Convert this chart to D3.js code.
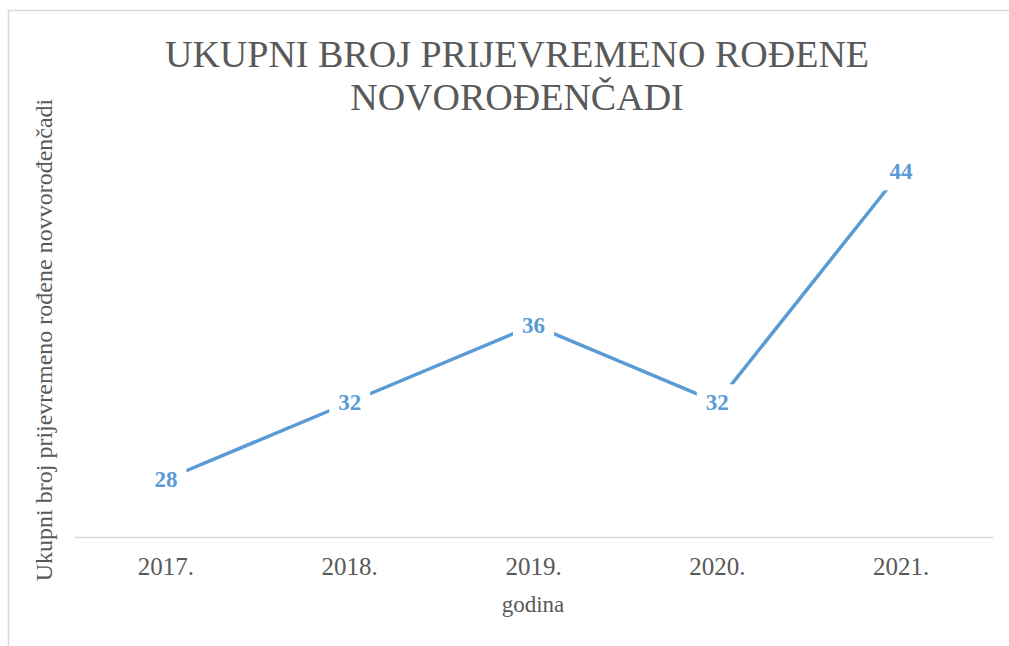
<!DOCTYPE html>
<html>
<head>
  <meta charset="utf-8" />
  <title>Ukupni broj prijevremeno rođene novorođenčadi</title>
  <style>
    body { margin: 0; background: #fff; }
    svg text { font-family: "Liberation Serif", serif; fill: #595959; }
    svg text.lbl { font-weight: bold; fill: #5B9BD5; font-size: 23px; }
  </style>
</head>
<body>
  <div id="chart"></div>
  <script src="https://d3js.org/d3.v7.min.js"></script>
  <script>
// podaci
const godine = ["2017.", "2018.", "2019.", "2020.", "2021."];
const vrijednosti = [28, 32, 36, 32, 44];
const naslov = ["UKUPNI BROJ PRIJEVREMENO ROĐENE", "NOVOROĐENČADI"];

const W = 1009, H = 646;
const svg = d3.select("#chart").append("svg")
  .attr("width", W)
  .attr("height", H)
  .attr("font-family", "Liberation Serif, serif");

// okvir grafikona
svg.append("rect")
  .attr("x", 8.5).attr("y", 10.5)
  .attr("width", 1100).attr("height", 1000)
  .attr("fill", "none")
  .attr("stroke", "#D9D9D9")
  .attr("stroke-width", 1.5);

const x = d3.scaleBand().domain(godine).range([74, 993]);
const y = d3.scaleLinear().domain([25, 45]).range([537, 152]);

// naslov
svg.append("text")
  .attr("x", 517).attr("y", 67)
  .attr("text-anchor", "middle")
  .attr("font-family", "Liberation Serif, serif")
  .style("font-size", "38px")
  .selectAll("tspan").data(naslov).join("tspan")
  .attr("x", 517)
  .attr("dy", (d, i) => i ? 43 : 0)
  .text(d => d);

// x os
const xAxis = svg.append("g")
  .attr("transform", "translate(0,537)")
  .call(d3.axisBottom(x).tickSize(0).tickPadding(15));
xAxis.attr("font-family", "Liberation Serif, serif");
xAxis.select(".domain").attr("stroke", "#D9D9D9").attr("stroke-width", 1.5);
xAxis.selectAll("text")
  .style("font-size", "25px")
  .attr("fill", "#595959")
  .attr("dy", "0.9em");

// naslovi osi
svg.append("text")
  .attr("x", 533).attr("y", 612)
  .attr("text-anchor", "middle")
  .style("font-size", "23px")
  .text("godina");

svg.append("text")
  .attr("transform", "translate(52,340) rotate(-90)")
  .attr("text-anchor", "middle")
  .style("font-size", "24px")
  .text("Ukupni broj prijevremeno rođene novvorođenčadi");

// linija
const cx = d => x(d) + x.bandwidth() / 2;
const line = d3.line()
  .x((d, i) => cx(godine[i]))
  .y(d => y(d));

svg.append("path")
  .datum(vrijednosti)
  .attr("d", line)
  .attr("fill", "none")
  .attr("stroke", "#5B9BD5")
  .attr("stroke-width", 3.5);

// oznake podataka
const g = svg.selectAll("g.oznaka").data(vrijednosti).join("g")
  .attr("class", "oznaka")
  .attr("transform", (d, i) => `translate(${cx(godine[i])},${y(d)})`);

g.append("text")
  .attr("class", "lbl")
  .attr("text-anchor", "middle")
  .attr("dy", "0.35em")
  .text(d => d);

g.each(function () {
  const t = d3.select(this).select("text");
  const b = t.node().getBBox();
  d3.select(this).insert("rect", "text")
    .attr("x", b.x - 9).attr("y", b.y - 6)
    .attr("width", b.width + 18).attr("height", b.height + 12)
    .attr("fill", "#fff");
});
  </script>
</body>
</html>
